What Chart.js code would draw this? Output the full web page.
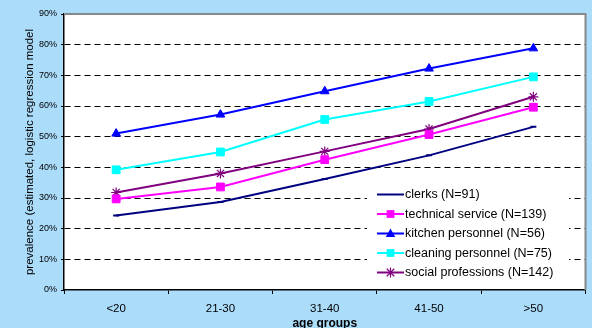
<!DOCTYPE html>
<html><head><meta charset="utf-8">
<script src="https://cdn.jsdelivr.net/npm/chart.js@4/dist/chart.umd.min.js"></script>
<style>
html,body{margin:0;padding:0;background:#ABDCFA;}
#wrap{width:592px;height:328px;position:relative;}
</style></head>
<body><div id="wrap"><canvas id="c" width="592" height="328"></canvas></div>
<script>
const categories = ['<20','21-30','31-40','41-50','>50'];
const clerks = [24.3, 28.7, 36.2, 43.9, 53.2];
const technical = [29.7, 33.6, 42.5, 50.7, 59.6];
const kitchen = [51.0, 57.2, 64.8, 72.2, 78.8];
const cleaning = [39.2, 45.0, 55.6, 61.5, 69.5];
const social = [31.8, 38.0, 45.2, 52.5, 63.0];
const seriesLabels = ['clerks (N=91)','technical service (N=139)','kitchen personnel (N=56)','cleaning personnel (N=75)','social professions (N=142)'];
const yTicks = [0,10,20,30,40,50,60,70,80,90];

const styles = [
  {c:'#000080', ps:'line', r:3},
  {c:'#FF00FF', ps:'rect', r:5.5},
  {c:'#0000FF', ps:'triangle', r:5},
  {c:'#00FFFF', ps:'rect', r:5.5},
  {c:'#800080', ps:'star', r:5}
];
const allData = [clerks, technical, kitchen, cleaning, social];
const FONT = 'Arial, "Liberation Sans", sans-serif';

function drawMarker(ctx, st, x, y){
  ctx.save();
  ctx.fillStyle = st.c; ctx.strokeStyle = st.c; ctx.lineWidth = st.ps==='star'?1.2:2;
  const r = st.r;
  ctx.beginPath();
  if (st.ps==='rect'){ const s=Math.SQRT1_2*r; ctx.fillRect(x-s,y-s,2*s,2*s); }
  else if (st.ps==='triangle'){ ctx.moveTo(x,y-r); ctx.lineTo(x+r*0.95,y+r*0.7); ctx.lineTo(x-r*0.95,y+r*0.7); ctx.closePath(); ctx.fill(); }
  else if (st.ps==='star'){ ctx.moveTo(x,y-r); ctx.lineTo(x,y+r); ctx.moveTo(x-r*0.75,y-r*0.75); ctx.lineTo(x+r*0.75,y+r*0.75); ctx.moveTo(x-r*0.75,y+r*0.75); ctx.lineTo(x+r*0.75,y-r*0.75); ctx.stroke(); }
  ctx.restore();
}

const frame = {
  id:'frame',
  beforeDraw(chart){
    const {ctx, chartArea:a} = chart;
    ctx.save(); ctx.fillStyle='#fff'; ctx.fillRect(a.left,a.top,a.right-a.left,a.bottom-a.top); ctx.restore();
  },
  afterDatasetsDraw(chart){
    const {ctx, chartArea:a} = chart;
    ctx.save();
    ctx.strokeStyle='#888'; ctx.lineWidth=2;
    ctx.beginPath(); ctx.moveTo(a.left,a.top); ctx.lineTo(a.right,a.top); ctx.lineTo(a.right,a.bottom); ctx.stroke();
    // legend
    const lx=367, ly=178, lw=202, lh=104;
    ctx.fillStyle='#fff'; ctx.fillRect(lx,ly,lw,lh);
    ctx.font='12.5px ' + FONT; ctx.textBaseline='middle'; ctx.fillStyle='#000';
    chart.data.datasets.forEach((ds,i)=>{
      const y=194.5+i*19.5;
      ctx.strokeStyle=styles[i].c; ctx.lineWidth=2;
      ctx.beginPath(); ctx.moveTo(377,y); ctx.lineTo(404,y); ctx.stroke();
      if (i>0) drawMarker(ctx, styles[i], 390.5, y);
      ctx.fillStyle='#000';
      ctx.fillText(ds.label, 405, y+0.5);
    });
    ctx.restore();
  }
};

new Chart(document.getElementById('c'), {
  type:'line',
  data:{
    labels: categories,
    datasets: allData.map((d,i)=>({
      label: seriesLabels[i], data: d,
      borderColor: styles[i].c, backgroundColor: styles[i].c,
      borderWidth: 2, pointStyle: styles[i].ps, pointRadius: styles[i].r,
      pointBorderWidth: styles[i].ps==='star'?1.2:(styles[i].ps==='line'?2:1),
      tension: 0, fill:false
    }))
  },
  options:{
    responsive:false, animation:false, devicePixelRatio:1,
    layout:{padding:{top:14,right:5,left:0,bottom:0}},
    plugins:{legend:{display:false}, tooltip:{enabled:false}},
    scales:{
      x:{
        offset:true,
        grid:{offset:true, drawOnChartArea:false, drawTicks:true, tickLength:4, color:'#000'},
        border:{color:'#000', width:1.5},
        ticks:{color:'#000', font:{family:FONT, size:11.5}, padding:8, maxRotation:0},
        title:{display:true, text:'age groups', color:'#000', font:{family:FONT, size:12, weight:'bold'}, padding:{top:0,bottom:-3}},
        afterFit(s){ s.height = 38; }
      },
      y:{
        min:0, max:90,
        afterBuildTicks(s){ s.ticks = yTicks.map(v=>({value:v})); },
        grid:{color:(c)=> c.tick && (c.tick.value===90 || c.tick.value===0) ? 'rgba(0,0,0,0)' : '#000', lineWidth:1, tickLength:3, tickBorderDash:[], tickColor:'#000'},
        border:{color:'#000', width:1.5, dash:[6,4]},
        ticks:{color:'#000', font:{family:FONT, size:9}, padding:4, callback:(v)=>v+'%'},
        title:{display:true, text:'prevalence (estimated, logistic regression model', color:'#000', font:{family:FONT, size:11.5}, padding:{top:23,bottom:0}},
        afterFit(s){ s.width = 64; }
      }
    }
  },
  plugins:[frame]
});
</script>
</body></html>
